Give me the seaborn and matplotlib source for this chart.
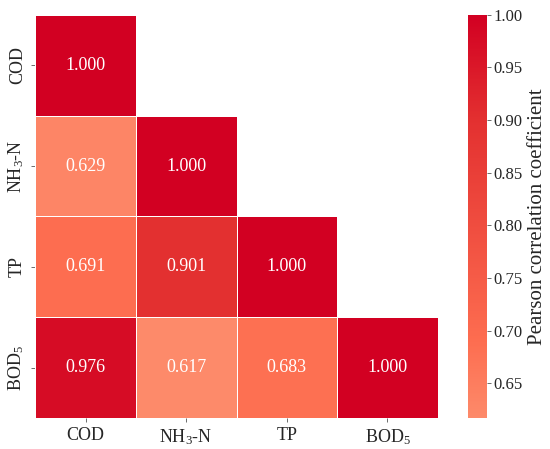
import numpy as np
import pandas as pd
import seaborn as sns
import matplotlib
matplotlib.use("Agg")
import matplotlib.pyplot as plt
from matplotlib.colors import LinearSegmentedColormap

labels = [r"COD", r"NH$_3$-N", r"TP", r"BOD$_5$"]
row_cod = [1.000, np.nan, np.nan, np.nan]
row_nh3 = [0.629, 1.000, np.nan, np.nan]
row_tp = [0.691, 0.901, 1.000, np.nan]
row_bod = [0.976, 0.617, 0.683, 1.000]

df = pd.DataFrame([row_cod, row_nh3, row_tp, row_bod], index=labels, columns=labels)
mask = df.isna()

sns.set_style("white")
plt.rcParams["font.family"] = ["Liberation Serif", "DejaVu Serif"]
plt.rcParams["mathtext.fontset"] = "custom"
plt.rcParams["mathtext.rm"] = "Liberation Serif"
plt.rcParams["mathtext.it"] = "Liberation Serif:italic"

cmap = LinearSegmentedColormap.from_list(
    "rd", [(0.0, "#fd8a6a"), (0.19, "#fd6d50"), (0.74, "#e33030"), (1.0, "#d20022")]
)

fig = plt.figure(figsize=(5.5, 4.49), dpi=100)
ax = fig.add_axes([0.064, 0.069, 0.732, 0.898])
cax = fig.add_axes([0.851, 0.069, 0.034, 0.898])

sns.heatmap(df, mask=mask, cmap=cmap, vmin=0.617, vmax=1.0, annot=True, fmt=".3f",
            annot_kws={"color": "white", "fontsize": 13},
            linewidths=0.5, linecolor="white", ax=ax, cbar_ax=cax,
            cbar_kws={"ticks": [0.65, 0.70, 0.75, 0.80, 0.85, 0.90, 0.95, 1.00]})

ax.tick_params(axis="both", which="both", length=3, width=0.6, color="#555555",
               labelsize=13, bottom=True, left=True)
ax.set_xticklabels(labels, rotation=0, fontsize=13)
ax.set_yticklabels(labels, rotation=90, va="center", fontsize=13)
ax.set_xlabel("")
ax.set_ylabel("")

cax.tick_params(labelsize=12, length=3, width=0.6, color="#555555", pad=1.5)
cax.set_yticklabels([f"{v:.2f}" for v in [0.65, 0.70, 0.75, 0.80, 0.85, 0.90, 0.95, 1.00]])
cax.set_ylabel("Pearson correlation coefficient", fontsize=15, labelpad=4)
for s in cax.spines.values():
    s.set_visible(False)

fig.savefig("out.png", dpi=100)
